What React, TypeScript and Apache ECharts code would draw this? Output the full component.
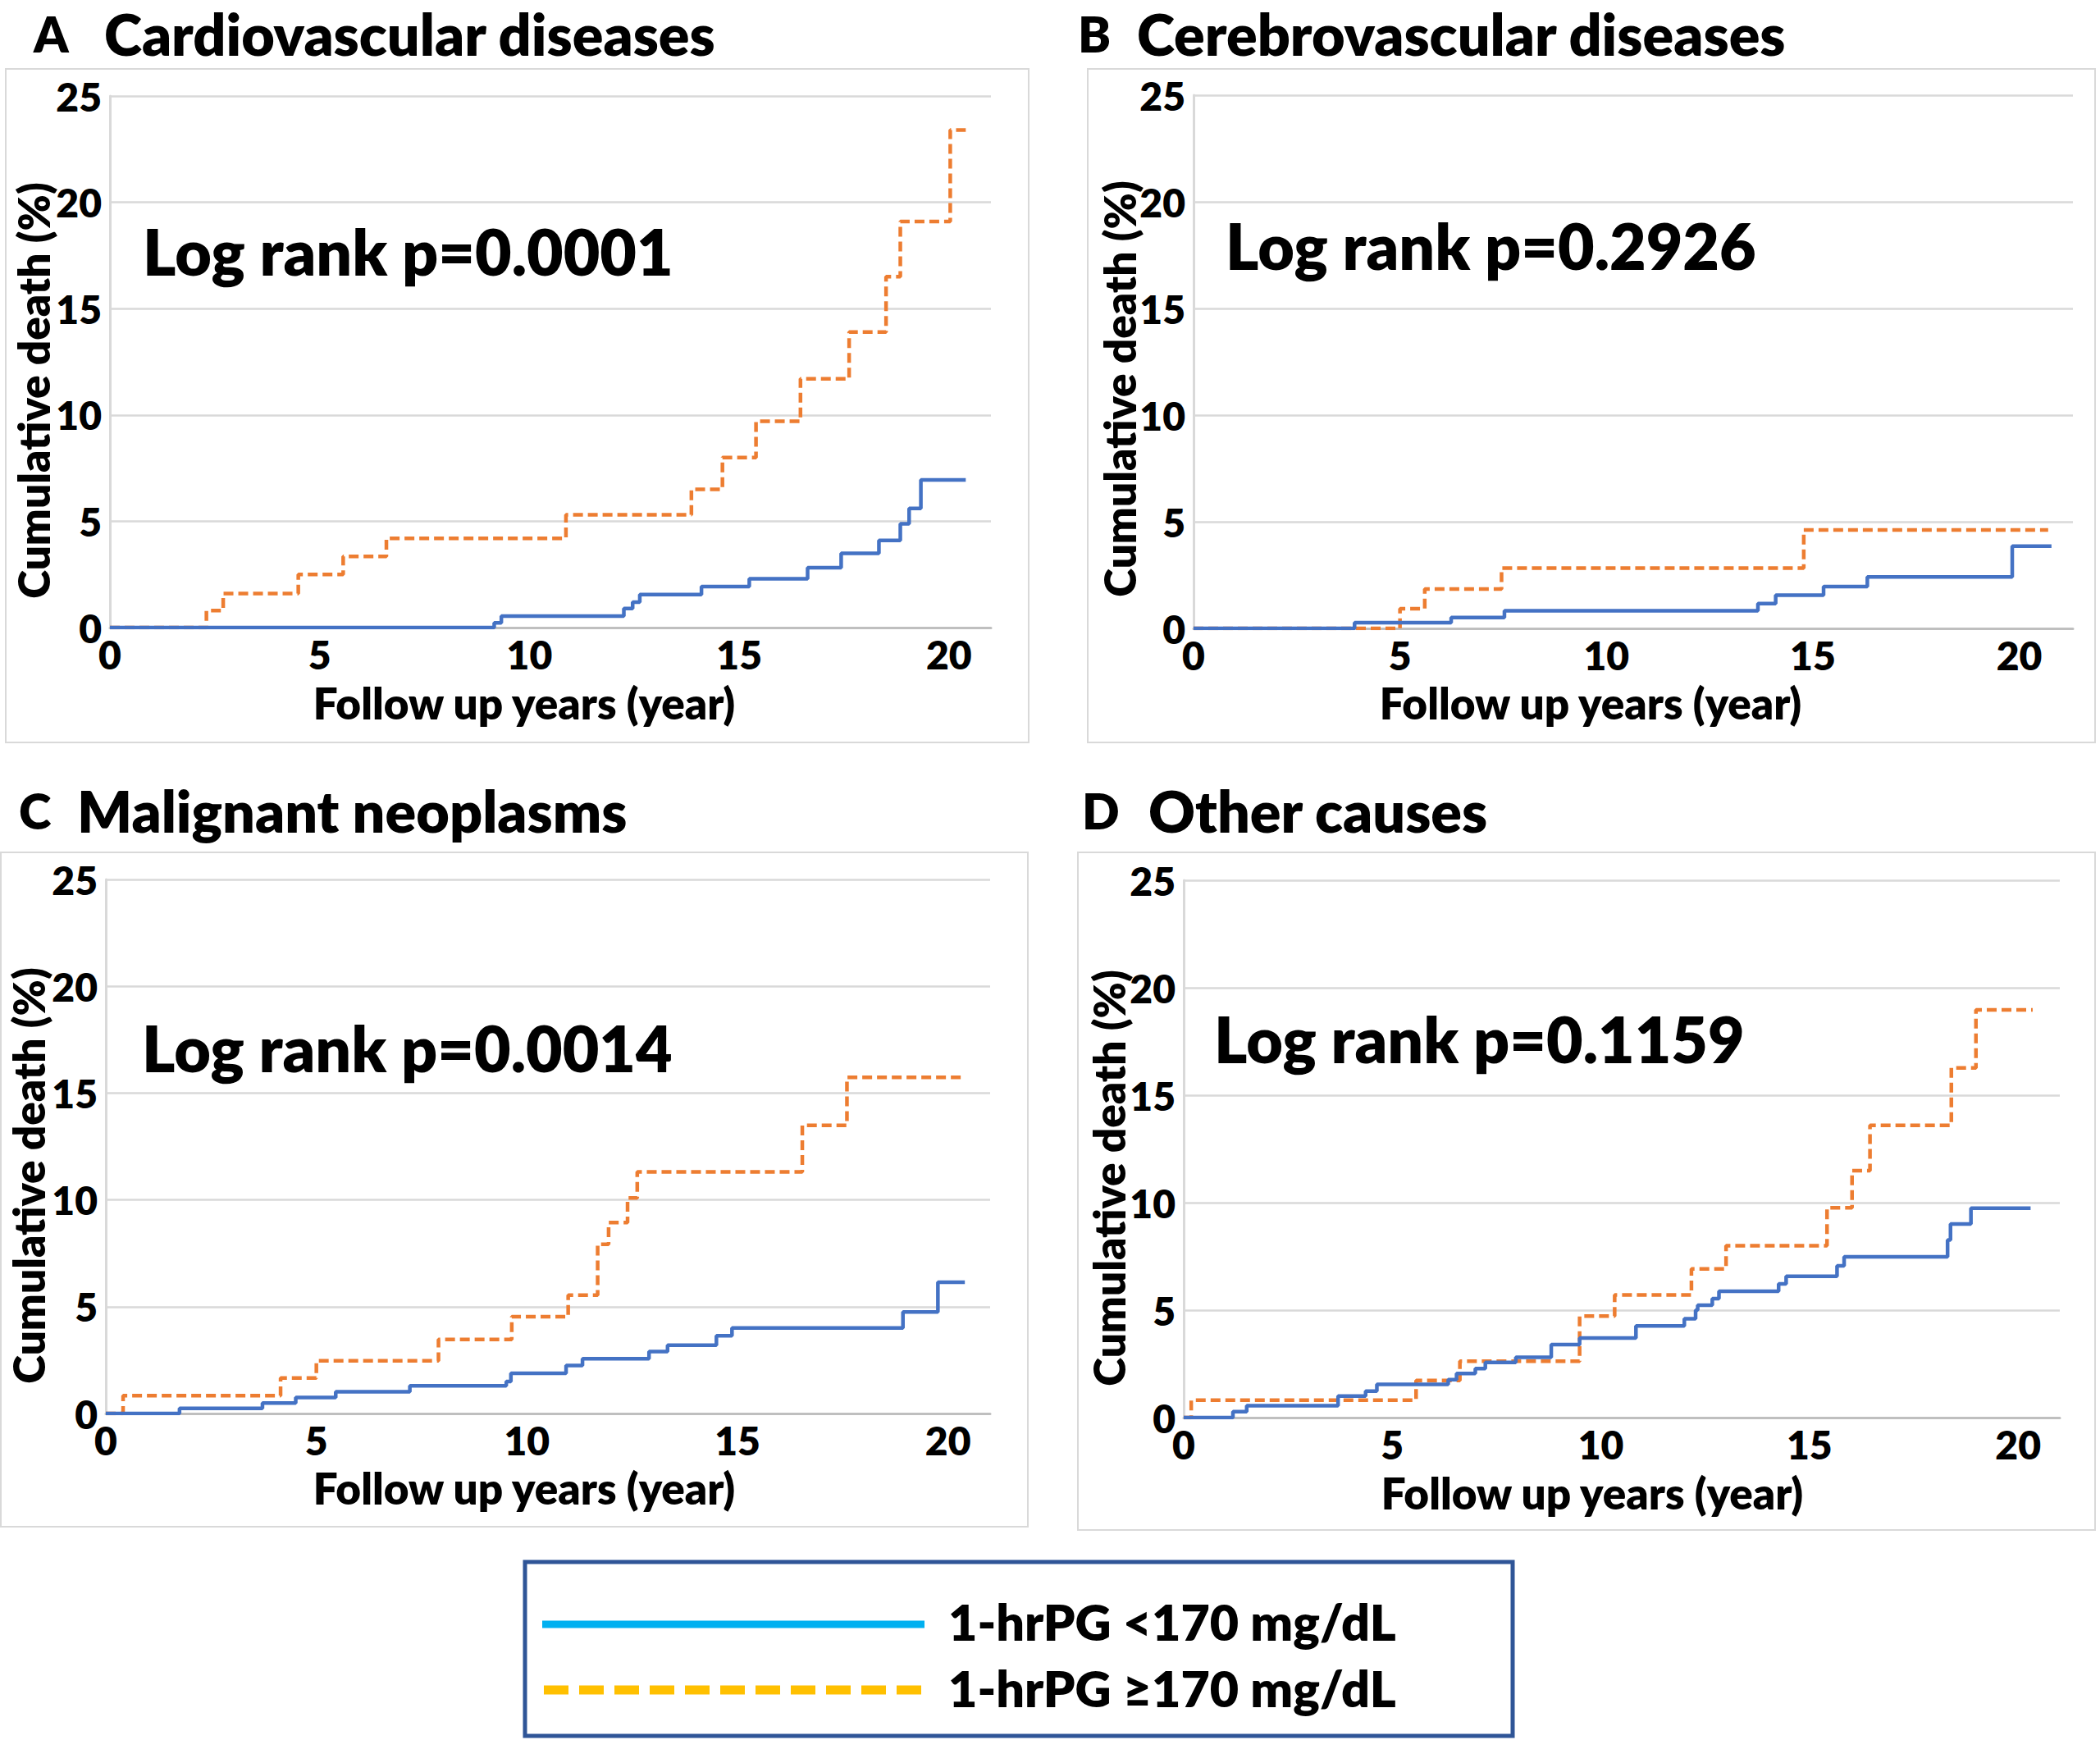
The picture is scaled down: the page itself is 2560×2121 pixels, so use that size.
import React, { useEffect, useRef } from "react";
import * as echarts from "echarts";

// ---------- Data (years, cumulative death %) ----------
// A: Cardiovascular diseases
const cvdLowT = [0, 9.16, 9.33, 12.25, 12.46, 12.63, 14.1, 15.24, 16.63, 17.43, 18.33, 18.84, 19.05, 19.33, 20.4];
const cvdLowY = [0, 0.22, 0.54, 0.9, 1.2, 1.55, 1.93, 2.3, 2.82, 3.49, 4.1, 4.88, 5.6, 6.94, 6.94];
const cvdHighT = [0, 2.3, 2.7, 4.49, 5.56, 6.59, 10.87, 13.86, 14.6, 15.4, 16.46, 17.62, 18.5, 18.84, 20.03, 20.4];
const cvdHighY = [0, 0.8, 1.6, 2.5, 3.35, 4.2, 5.3, 6.5, 8.0, 9.7, 11.7, 13.9, 16.5, 19.1, 23.4, 23.4];

// B: Cerebrovascular diseases
const cbvLowT = [0, 3.9, 6.24, 7.53, 13.67, 14.1, 15.26, 16.32, 19.83, 20.78];
const cbvLowY = [0, 0.27, 0.51, 0.83, 1.16, 1.56, 1.96, 2.41, 3.86, 3.86];
const cbvHighT = [0, 5.0, 5.6, 7.46, 14.78, 20.7];
const cbvHighY = [0, 0.92, 1.85, 2.83, 4.62, 4.62];

// C: Malignant neoplasms
const mnLowT = [0, 1.75, 3.72, 4.51, 5.46, 7.22, 9.51, 9.62, 10.93, 11.32, 12.9, 13.34, 14.5, 14.87, 18.93, 19.76, 20.4];
const mnLowY = [0, 0.24, 0.49, 0.75, 1.02, 1.3, 1.5, 1.88, 2.25, 2.56, 2.9, 3.2, 3.64, 4.0, 4.75, 6.14, 6.14];
const mnHighT = [0, 0.41, 4.15, 5.0, 7.9, 9.64, 10.98, 11.68, 11.94, 12.39, 12.62, 16.54, 17.6, 20.4];
const mnHighY = [0, 0.84, 1.66, 2.47, 3.47, 4.53, 5.54, 7.92, 8.94, 10.09, 11.31, 13.49, 15.74, 15.74];

// D: Other causes
const ocLowT = [0, 1.18, 1.51, 3.7, 4.36, 4.63, 6.34, 6.54, 6.99, 7.23, 7.96, 8.81, 9.49, 10.84, 12.0, 12.27, 12.32, 12.67, 12.83, 14.26, 14.44, 15.66, 15.83, 18.31, 18.38, 18.87, 20.3];
const ocLowY = [0, 0.28, 0.55, 1.0, 1.23, 1.55, 1.77, 2.05, 2.28, 2.57, 2.81, 3.4, 3.7, 4.27, 4.6, 5.0, 5.23, 5.53, 5.88, 6.22, 6.57, 7.06, 7.48, 8.26, 9.01, 9.74, 9.74];
const ocHighT = [0, 0.18, 5.57, 6.62, 9.49, 10.33, 12.17, 13.0, 15.42, 16.02, 16.45, 18.4, 18.99, 20.35];
const ocHighY = [0, 0.81, 1.73, 2.62, 4.72, 5.71, 6.92, 8.0, 9.76, 11.49, 13.6, 16.27, 18.97, 18.97];

const panelLetters = ["A", "B", "C", "D"];
const panelTitles = ["Cardiovascular diseases", "Cerebrovascular diseases", "Malignant neoplasms", "Other causes"];
const logRankTexts = ["Log rank p=0.0001", "Log rank p=0.2926", "Log rank p=0.0014", "Log rank p=0.1159"];
const yTicks = [0, 5, 10, 15, 20, 25];
const xTickStep = 5;
const xAxisTitle = "Follow up years (year)";
const yAxisTitle = "Cumulative death (%)";
const legendLabels = ["1-hrPG <170 mg/dL", "1-hrPG \u2265170 mg/dL"];
const xMaxes = [21, 21.3, 21, 21];

// ---------- Layout (pixels) ----------
const FONT = "Lato, Carlito, 'Open Sans', sans-serif";
const W = 800;
const grids = [
  { left: 134, top: 117, width: 1074, height: 648 },
  { left: 1455, top: 116, width: 1072, height: 650 },
  { left: 129, top: 1072, width: 1078, height: 651 },
  { left: 1443, top: 1073, width: 1068, height: 655 },
];
const boxes = [
  { x: 7, y: 84, w: 1247, h: 821 },
  { x: 1326, y: 84, w: 1228, h: 821 },
  { x: 1, y: 1039, w: 1252, h: 822 },
  { x: 1314, y: 1039, w: 1240, h: 826 },
];
const letterPos = [
  { x: 41, y: 41 },
  { x: 1314, y: 41 },
  { x: 23, y: 988 },
  { x: 1319, y: 988 },
];
const titlePos = [
  { x: 127, y: 41 },
  { x: 1386, y: 41 },
  { x: 94, y: 988 },
  { x: 1400, y: 988 },
];
const logPos = [
  { x: 174, y: 306 },
  { x: 1494, y: 299 },
  { x: 173, y: 1277 },
  { x: 1480, y: 1266 },
];
const yTitlePos = [
  { x: 40, y: 476 },
  { x: 1364, y: 474 },
  { x: 34, y: 1433 },
  { x: 1351, y: 1436 },
];
const xTitlePos = [
  { x: 639, y: 856 },
  { x: 1939, y: 856 },
  { x: 639, y: 1813 },
  { x: 1941, y: 1819 },
];

const BLUE = "#4472C4";
const ORANGE = "#ED7D31";

function pairs(t: number[], y: number[]) {
  return t.map((v, i) => [v, y[i]]);
}

export default function App() {
  const ref = useRef<HTMLDivElement>(null);
  useEffect(() => {
    if (!ref.current) return;
    const chart = echarts.init(ref.current, undefined, { renderer: "svg" });
    const low = [pairs(cvdLowT, cvdLowY), pairs(cbvLowT, cbvLowY), pairs(mnLowT, mnLowY), pairs(ocLowT, ocLowY)];
    const high = [pairs(cvdHighT, cvdHighY), pairs(cbvHighT, cbvHighY), pairs(mnHighT, mnHighY), pairs(ocHighT, ocHighY)];

    const series: any[] = [];
    for (let i = 0; i < 4; i++) {
      series.push({
        type: "line",
        name: legendLabels[1],
        xAxisIndex: i,
        yAxisIndex: i,
        data: high[i],
        step: "end",
        showSymbol: false,
        lineStyle: { color: ORANGE, width: 4.5, type: [12, 6] },
        z: 2,
      });
      series.push({
        type: "line",
        name: legendLabels[0],
        xAxisIndex: i,
        yAxisIndex: i,
        data: low[i],
        step: "end",
        showSymbol: false,
        lineStyle: { color: BLUE, width: 4.5 },
        z: 3,
      });
    }

    const txt = (text: string, x: number, y: number, size: number, extra: any = {}) => ({
      type: "text",
      x,
      y,
      z: 10,
      ...extra,
      style: {
        text,
        font: `${W} ${size}px ${FONT}`,
        fill: "#000",
        textAlign: extra.align || "left",
        textVerticalAlign: "middle",
      },
    });

    const graphic: any[] = [];
    boxes.forEach((b) => {
      graphic.push({
        type: "rect",
        shape: { x: b.x, y: b.y, width: b.w, height: b.h },
        style: { fill: "none", stroke: "#d9d9d9", lineWidth: 2 },
        z: -1,
      });
    });
    for (let i = 0; i < 4; i++) {
      graphic.push(txt(panelLetters[i], letterPos[i].x, letterPos[i].y, 60));
      graphic.push(txt(panelTitles[i], titlePos[i].x, titlePos[i].y, 70));
      graphic.push(txt(logRankTexts[i], logPos[i].x, logPos[i].y, 77));
      graphic.push(txt(yAxisTitle, yTitlePos[i].x, yTitlePos[i].y, 53, { rotation: Math.PI / 2, align: "center" }));
      graphic.push(txt(xAxisTitle, xTitlePos[i].x, xTitlePos[i].y, 53, { align: "center" }));
    }
    // Legend
    graphic.push({
      type: "rect",
      shape: { x: 640, y: 1904, width: 1204, height: 212 },
      style: { fill: "#fff", stroke: "#2F5597", lineWidth: 5 },
    });
    graphic.push({
      type: "line",
      shape: { x1: 661, y1: 1980, x2: 1127, y2: 1980 },
      style: { stroke: "#00B0F0", lineWidth: 9 },
    });
    graphic.push({
      type: "line",
      shape: { x1: 663, y1: 2060, x2: 1127, y2: 2060 },
      style: { stroke: "#FFC000", lineWidth: 11, lineDash: [30, 13] },
    });
    graphic.push(txt(legendLabels[0], 1156, 1976, 61));
    graphic.push(txt(legendLabels[1], 1156, 2057, 61));

    chart.setOption({
      animation: false,
      backgroundColor: "#fff",
      grid: grids.map((g) => ({ ...g, containLabel: false })),
      xAxis: grids.map((_, i) => ({
        type: "value",
        gridIndex: i,
        min: 0,
        max: xMaxes[i],
        interval: xTickStep,
        axisLine: { show: true, lineStyle: { color: "#bfbfbf", width: 3 } },
        axisTick: { show: false },
        splitLine: { show: false },
        axisLabel: {
          margin: 8,
          color: "#000",
          fontFamily: FONT,
          fontWeight: W,
          fontSize: 48,
          formatter: (v: number) => (v % xTickStep === 0 ? String(v) : ""),
        },
      })),
      yAxis: grids.map((_, i) => ({
        type: "value",
        gridIndex: i,
        min: yTicks[0],
        max: yTicks[yTicks.length - 1],
        interval: yTicks[1] - yTicks[0],
        axisLine: { show: true, lineStyle: { color: "#d9d9d9", width: 3 } },
        axisTick: { show: false },
        splitLine: { show: true, lineStyle: { color: "#d9d9d9", width: 2.5 } },
        axisLabel: {
          margin: 10,
          color: "#000",
          fontFamily: FONT,
          fontWeight: W,
          fontSize: 48,
        },
      })),
      series,
      graphic,
    });
    return () => chart.dispose();
  }, []);
  return (
    <div
      ref={ref}
      style={{ position: "fixed", left: 0, top: 0, width: 2560, height: 2121, background: "#fff" }}
    />
  );
}
